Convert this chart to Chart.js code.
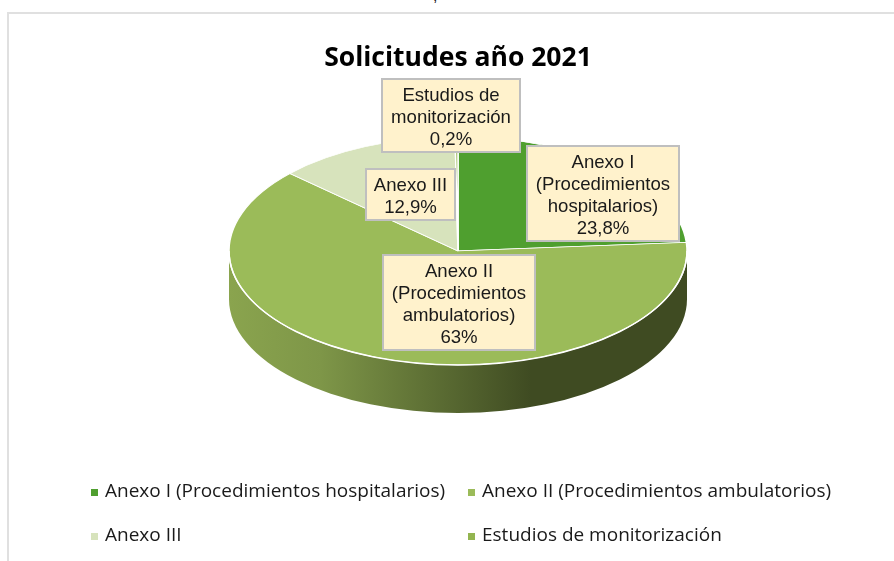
<!DOCTYPE html>
<html>
<head>
<meta charset="utf-8">
<style>
	body { margin: 0; background: #fff; overflow: hidden; }
	#frame { position: absolute; left: 7px; top: 12px; right: 0; bottom: 0; border-top: 2px solid #e0e0e0; border-left: 2px solid #e0e0e0; }
	#cut { position: absolute; left: 433px; top: -13px; font: 16px "Liberation Sans"; color: #222; }
	canvas { position: absolute; left: 0; top: 0; }
</style>
<script src="https://cdn.jsdelivr.net/npm/chart.js@4"></script>
</head>
<body>
<div id="cut">,</div>
<div id="frame"></div>
<canvas id="chartCanvas" width="894" height="561"></canvas>
<script>
var categories = ["Anexo I (Procedimientos hospitalarios)", "Anexo II (Procedimientos ambulatorios)", "Anexo III", "Estudios de monitorización"];
var shares = [23.8, 63, 12.9, 0.2];
var sliceColors = ["#4f9f2f", "#9bbb59", "#d7e3bc", "#93b550"];
var labelLines = [
	["Anexo I", "(Procedimientos", "hospitalarios)"],
	["Anexo II", "(Procedimientos", "ambulatorios)"],
	["Anexo III"],
	["Estudios de", "monitorización"]
];

// label boxes and legend rows, in canvas pixels
var labelBoxes = [[527, 146, 152, 95], [383, 255, 152, 95], [366, 169, 89, 51], [382, 79, 138, 73]];
var legendSpots = [[91, 492], [468, 492], [91, 536], [468, 536]];

var SQUASH = 114 / 229;
var DEPTH = 48;

var pie3d = {
	id: "pie3d",
	beforeDatasetsDraw: function(chart) {
		var ctx = chart.ctx;
		var arc = chart.getDatasetMeta(0).data[0];
		var r = arc.outerRadius, ry = r * SQUASH;

		var side = ctx.createLinearGradient(arc.x - r, 0, arc.x + r, 0);
		side.addColorStop(0, "#8aa44e");
		side.addColorStop(0.2, "#7e9648");
		side.addColorStop(0.66, "#3f4b22");
		side.addColorStop(1, "#3f4b22");

		ctx.save();
		ctx.beginPath();
		ctx.ellipse(arc.x, arc.y, r, ry, 0, 0, Math.PI);
		ctx.ellipse(arc.x, arc.y + DEPTH, r, ry, 0, Math.PI, 0, true);
		ctx.closePath();
		ctx.fillStyle = side;
		ctx.fill();
		ctx.restore();

		ctx.save();
		ctx.translate(arc.x, arc.y);
		ctx.scale(1, SQUASH);
		ctx.translate(-arc.x, -arc.y);
	},
	afterDatasetsDraw: function(chart) {
		var ctx = chart.ctx;
		ctx.restore();

		var arc = chart.getDatasetMeta(0).data[0];
		ctx.beginPath();
		ctx.ellipse(arc.x, arc.y, arc.outerRadius, arc.outerRadius * SQUASH, 0, 0, Math.PI);
		ctx.strokeStyle = "#fff";
		ctx.lineWidth = 1.5;
		ctx.stroke();

		// data labels
		ctx.font = "18.6px 'Liberation Sans'";
		ctx.textAlign = "center";
		ctx.textBaseline = "middle";
		for (var i in labelBoxes) {
			var b = labelBoxes[i];
			ctx.fillStyle = "#fff2cc";
			ctx.strokeStyle = "#bfbfbf";
			ctx.lineWidth = 2;
			ctx.fillRect(b[0], b[1], b[2], b[3]);
			ctx.strokeRect(b[0], b[1], b[2], b[3]);
			var lines = labelLines[i].concat(String(shares[i]).replace(".", ",") + "%");
			var top = b[1] + b[3] / 2 - (lines.length - 1) * 11 + 2;
			ctx.fillStyle = "#1a1a1a";
			for (var j = 0; j < lines.length; j++) {
				ctx.fillText(lines[j], b[0] + b[2] / 2, top + j * 22);
			}
		}

		// legend, two aligned columns
		ctx.font = "19px 'Open Sans'";
		ctx.textAlign = "left";
		for (var k in categories) {
			var s = legendSpots[k];
			ctx.fillStyle = sliceColors[k];
			ctx.fillRect(s[0], s[1] - 3, 7, 7);
			ctx.fillStyle = "#1a1a1a";
			ctx.fillText(categories[k], s[0] + 14, s[1]);
		}
	}
};

new Chart(document.getElementById("chartCanvas"), {
	type: "pie",
	data: {
		labels: categories,
		datasets: [{
			data: shares,
			backgroundColor: sliceColors,
			borderColor: "#fff",
			borderWidth: 1.5,
			radius: 229,
			clip: false
		}]
	},
	options: {
		responsive: false,
		animation: false,
		layout: { padding: { left: 22, bottom: 134 } },
		plugins: {
			legend: { display: false },
			tooltip: { enabled: false },
			title: {
				display: true,
				fullSize: false,
				text: "Solicitudes año 2021",
				color: "#000",
				font: { family: "'Open Sans'", size: 26.5, weight: "bold" },
				padding: { top: 43, bottom: 0 }
			}
		}
	},
	plugins: [pie3d]
});
</script>
</body>
</html>
